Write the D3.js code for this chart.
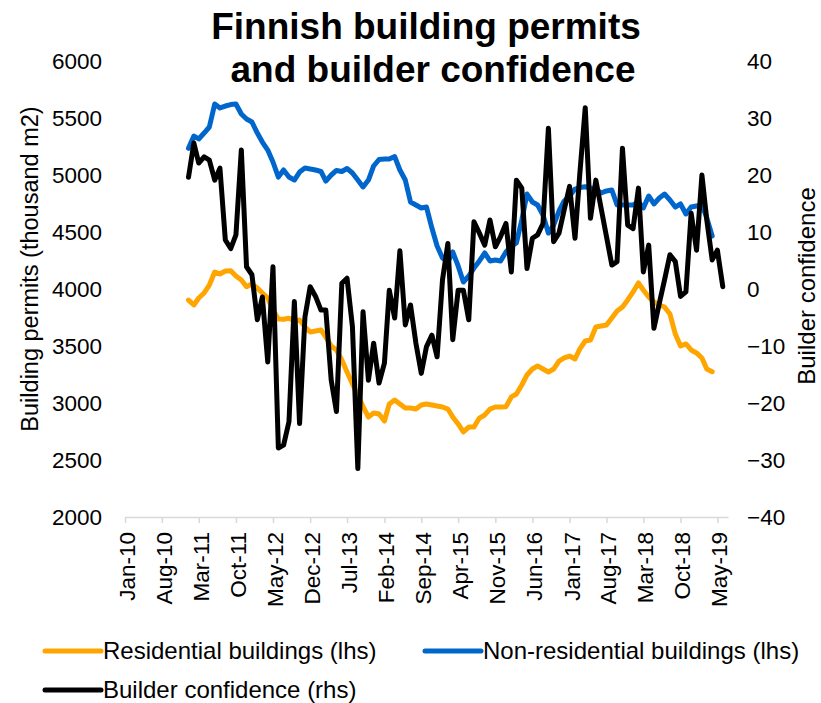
<!DOCTYPE html>
<html>
<head>
<meta charset="utf-8">
<script src="https://cdn.jsdelivr.net/npm/d3@7"></script>
<style>
  html, body { margin: 0; padding: 0; background: #fff; }
  svg { display: block; font-family: Arial, "Liberation Sans", sans-serif; }
</style>
</head>
<body>
<svg id="chart" width="821" height="703"></svg>
<script>
// ---- Data (monthly, starting Jan 2011) ----
const startYear = 2011, startMonth = 0;

const residential = [
  3903, 3860, 3921, 3965, 4035, 4149, 4132, 4158, 4160, 4114, 4079, 4020,
  4044, 4009, 3965, 3921, 3816, 3737, 3734, 3743, 3719, 3728, 3667, 3623,
  3632, 3641, 3579, 3500, 3465, 3377, 3272, 3167, 3070, 2968, 2877, 2912,
  2903, 2842, 2991, 3026, 2991, 2956, 2956, 2947, 2982, 2991, 2982, 2974,
  2965, 2947, 2877, 2816, 2746, 2789, 2789, 2868, 2895, 2947, 2965, 2965,
  2968, 3053, 3079, 3158, 3246, 3298, 3325, 3298, 3272, 3298, 3368, 3395,
  3412, 3386, 3474, 3544, 3553, 3667, 3676, 3684, 3746, 3807, 3842, 3904,
  3974, 4053, 3991, 3930, 3886, 3860, 3842, 3781, 3605, 3500, 3518, 3465,
  3439, 3395, 3298, 3274
];

const nonResidential = [
  5234, 5342, 5316, 5368, 5421, 5623, 5588, 5605, 5618, 5623, 5535, 5491,
  5465, 5368, 5289, 5219, 5114, 4982, 5044, 4982, 4956, 5026, 5061, 5053,
  5044, 5031, 4947, 5000, 5040, 5031, 5057, 5018, 4956, 4895, 4956, 5079,
  5136, 5140, 5140, 5162, 5044, 4956, 4763, 4737, 4711, 4719, 4535, 4377,
  4272, 4237, 4325, 4202, 4061, 4114, 4184, 4246, 4316, 4246, 4254, 4246,
  4325, 4377, 4404, 4605, 4833, 4763, 4737, 4649, 4491, 4561, 4684, 4772,
  4816, 4877, 4890, 4897, 4886, 4877, 4842, 4860, 4868, 4737, 4737, 4737,
  4737, 4763, 4711, 4816, 4746, 4798, 4833, 4781, 4719, 4746, 4658, 4719,
  4728, 4737, 4623, 4465
];

const confidence = [
  19.6, 25.6, 22.1, 23.2, 22.6, 19.1, 21.2, 8.6, 7.1, 9.5, 24.4, 3.9,
  2.5, -5.4, -1.4, -12.8, 3.9, -27.9, -27.4, -23.3, -2.2, -23.6, -4.9, 0.4,
  -1.3, -3.7, -3.7, -16, -21.5, 1.0, 1.9, -6.6, -31.5, -4.0, -16, -9.5,
  -16.5, -13, -0.2, -5.1, 6.7, -6.3, -2.8, -9.5, -14.8, -10.1, -8.1, -11.9,
  1.6, 8.0, -8.9, -0.2, -0.2, -5.4, 11.8, 9.8, 7.7, 12.1, 7.4, 9.2,
  11.5, 3.0, 19.1, 17.7, 3.6, 8.9, 9.5, 11.5, 28.2, 8.3, 9.8, 13.9,
  18.0, 8.9, 20.3, 31.8, 12.4, 19.1, 14.2, 9.2, 4.2, 4.8, 24.7, 11.2,
  10.6, 17.7, 3.0, 7.7, -6.9, -2.5, 1.6, 6.0, 4.8, -1.3, -0.5, 13.3,
  6.8, 20.0, 12.1, 5.1, 6.8, 0.4
];

const leftTicks = [2000, 2500, 3000, 3500, 4000, 4500, 5000, 5500, 6000];
const rightTicks = [-40, -30, -20, -10, 0, 10, 20, 30, 40];
const xTickDates = d3.range(17).map(i => new Date(2010, i * 7, 1)); // Jan-10 ... May-19

const titleLines = ["Finnish building permits", "and builder confidence"];
const leftTitle = "Building permits (thousand m2)";
const rightTitle = "Builder confidence";
const seriesNames = ["Residential buildings (lhs)", "Non-residential buildings (lhs)", "Builder confidence (rhs)"];
const colors = { res: "#FFA500", non: "#0066CC", conf: "#000000" };

// ---- Layout ----
const plot = { left: 125, right: 728, top: 61, bottom: 517 };
const svg = d3.select("#chart");
const FONT = "Arial, 'Liberation Sans', sans-serif";

const dateOf = i => new Date(startYear, startMonth + i, 1);

const x = d3.scaleTime()
  .domain([new Date(2010, 0, 1), new Date(2019, 6, 1)])
  .range([plot.left, plot.right]);
const yL = d3.scaleLinear().domain([2000, 6000]).range([plot.bottom, plot.top]);
const yR = d3.scaleLinear().domain([-40, 40]).range([plot.bottom, plot.top]);

const tickFont = 22.5;
const legendFont = 24;

// X axis
const fmt = d3.timeFormat("%b-%y");
const xAxis = d3.axisBottom(x).tickValues(xTickDates).tickFormat(fmt).tickSize(6).tickSizeOuter(0);
const gx = svg.append("g").attr("transform", `translate(0,${plot.bottom})`).call(xAxis);
gx.select(".domain").attr("stroke", "#d9d9d9").attr("stroke-width", 1.5);
gx.selectAll(".tick line").attr("stroke", "#d9d9d9").attr("stroke-width", 1.5);
gx.selectAll(".tick text")
  .attr("font-size", tickFont)
  .attr("font-family", FONT)
  .attr("fill", "#000")
  .attr("text-anchor", "end")
  .attr("transform", "translate(0,15) rotate(-90)")
  .attr("x", 0).attr("y", 0)
  .attr("dy", "0.42em");

// Left axis
const gl = svg.append("g").attr("transform", `translate(${plot.left},0)`)
  .call(d3.axisLeft(yL).tickValues(leftTicks).tickFormat(d3.format("d")).tickSize(0).tickPadding(23));
gl.select(".domain").remove();
gl.selectAll(".tick text").attr("font-size", tickFont).attr("fill", "#000").attr("font-family", FONT);

// Right axis
const gr = svg.append("g").attr("transform", `translate(${plot.right},0)`)
  .call(d3.axisRight(yR).tickValues(rightTicks).tickFormat(d3.format("d")).tickSize(0).tickPadding(19));
gr.select(".domain").remove();
gr.selectAll(".tick text").attr("font-size", tickFont).attr("fill", "#000").attr("font-family", FONT);

// Axis titles
svg.append("text")
  .attr("transform", `translate(38,269) rotate(-90)`)
  .attr("text-anchor", "middle").attr("font-size", 23.5).text(leftTitle);
svg.append("text")
  .attr("transform", `translate(815,286) rotate(-90)`)
  .attr("text-anchor", "middle").attr("font-size", 24).text(rightTitle);

// Title
svg.append("text").attr("x", 426).attr("y", 39).attr("text-anchor", "middle")
  .attr("font-size", 37).attr("font-weight", "bold").text(titleLines[0]);
svg.append("text").attr("x", 433).attr("y", 82).attr("text-anchor", "middle")
  .attr("font-size", 37).attr("font-weight", "bold").text(titleLines[1]);

// Lines
const lineL = d3.line().x((d, i) => x(dateOf(i))).y(d => yL(d));
const lineR = d3.line().x((d, i) => x(dateOf(i))).y(d => yR(d));

const drawLine = (data, gen, color) => svg.append("path")
  .datum(data).attr("d", gen).attr("fill", "none")
  .attr("stroke", color).attr("stroke-width", 5)
  .attr("stroke-linejoin", "round").attr("stroke-linecap", "round");

drawLine(residential, lineL, colors.res);
drawLine(nonResidential, lineL, colors.non);
drawLine(confidence, lineR, colors.conf);

// Legend
const legendItems = [
  { name: seriesNames[0], color: colors.res, x: 45, y: 651 },
  { name: seriesNames[1], color: colors.non, x: 425, y: 651 },
  { name: seriesNames[2], color: colors.conf, x: 45, y: 690 }
];
const lg = svg.append("g");
legendItems.forEach(it => {
  lg.append("line").attr("x1", it.x).attr("x2", it.x + 56).attr("y1", it.y).attr("y2", it.y)
    .attr("stroke", it.color).attr("stroke-width", 5).attr("stroke-linecap", "round");
  lg.append("text").attr("x", it.x + 58).attr("y", it.y).attr("dy", "0.35em")
    .attr("font-size", legendFont).text(it.name);
});
</script>
</body>
</html>
